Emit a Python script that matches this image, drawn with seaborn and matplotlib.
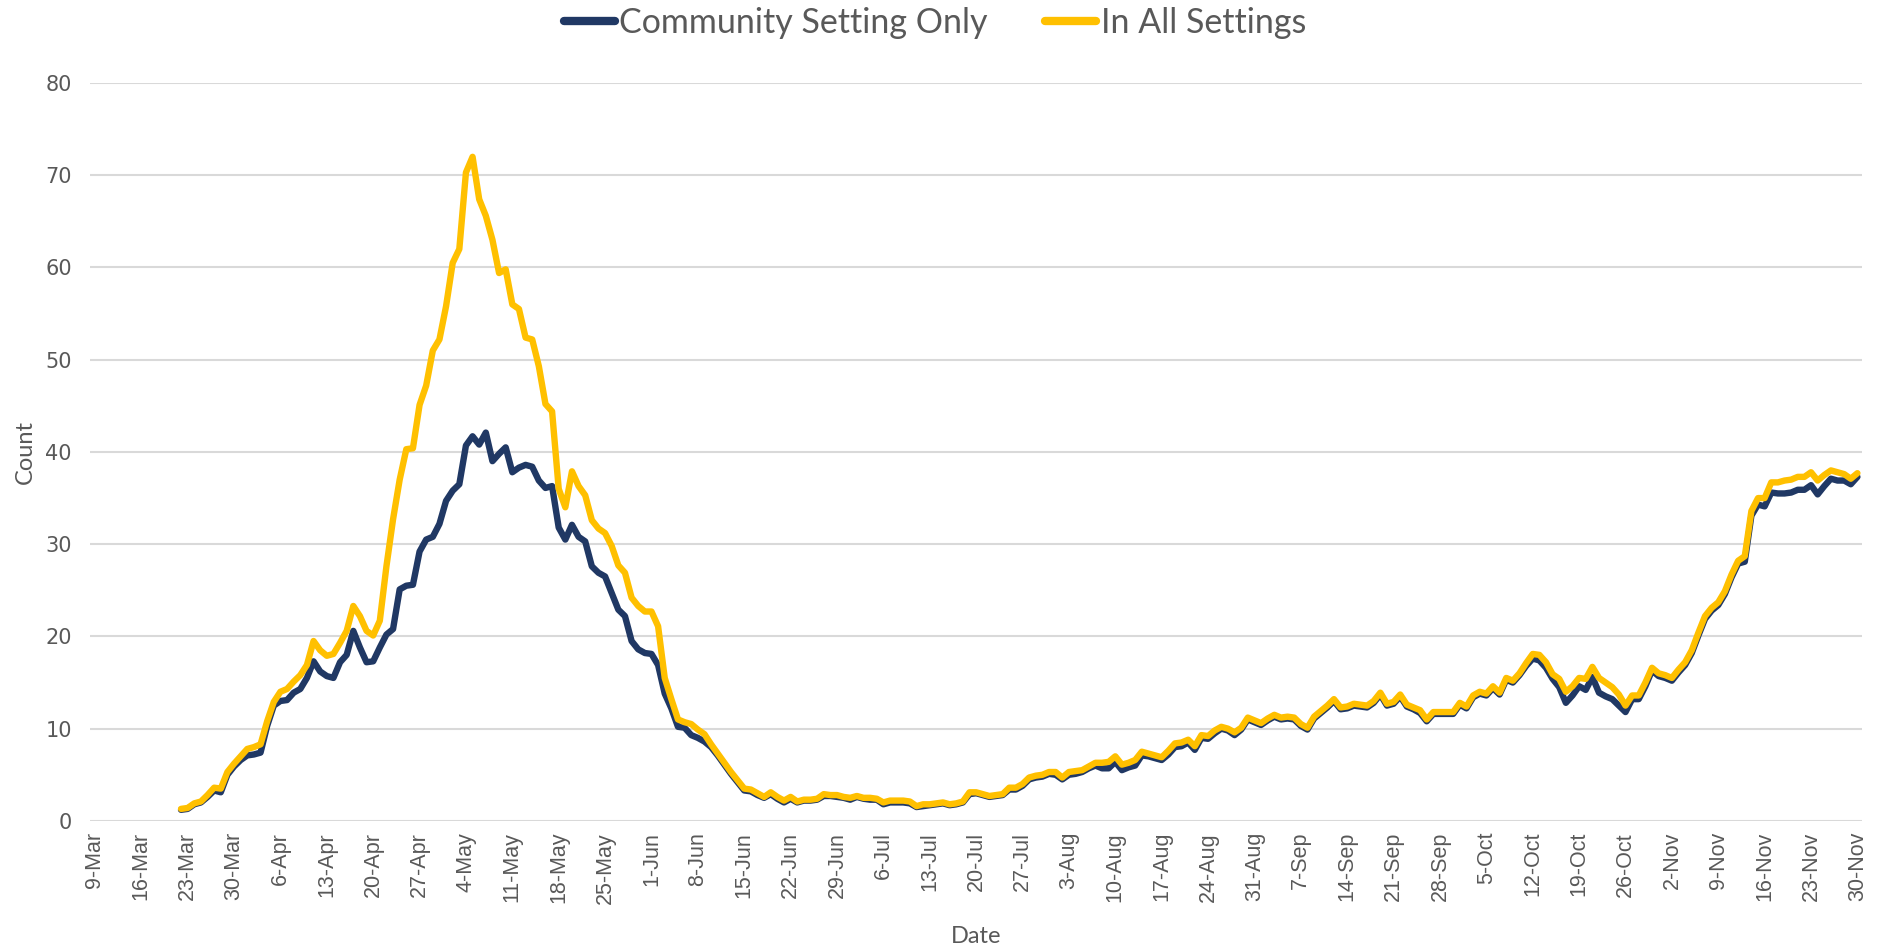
import matplotlib
matplotlib.use("Agg")
import matplotlib.pyplot as plt
import seaborn as sns
import pandas as pd
from matplotlib.lines import Line2D

# ---- data ----
first_day = "2020-03-22"
axis_start = "2020-03-09"
axis_end = "2020-11-30"

tick_labels = ["9-Mar", "16-Mar", "23-Mar", "30-Mar", "6-Apr", "13-Apr", "20-Apr", "27-Apr",
               "4-May", "11-May", "18-May", "25-May", "1-Jun", "8-Jun", "15-Jun", "22-Jun",
               "29-Jun", "6-Jul", "13-Jul", "20-Jul", "27-Jul", "3-Aug", "10-Aug", "17-Aug",
               "24-Aug", "31-Aug", "7-Sep", "14-Sep", "21-Sep", "28-Sep", "5-Oct", "12-Oct",
               "19-Oct", "26-Oct", "2-Nov", "9-Nov", "16-Nov", "23-Nov", "30-Nov"]

community = [
    1.2, 1.3, 1.8, 2.0, 2.6, 3.3, 3.1, 5.0, 5.9, 6.6, 7.1, 7.2, 7.4, 10.3, 12.5, 13.0,
    13.1, 13.9, 14.3, 15.5, 17.3, 16.2, 15.7, 15.5, 17.2, 18.0, 20.6, 18.8, 17.2, 17.3,
    18.8, 20.2, 20.8, 25.1, 25.5, 25.6, 29.2, 30.5, 30.8, 32.2, 34.7, 35.8, 36.5, 40.7,
    41.7, 40.8, 42.1, 39.0, 39.8, 40.5, 37.8, 38.3, 38.6, 38.4, 36.9, 36.1, 36.3, 31.8,
    30.5, 32.1, 30.8, 30.3, 27.6, 26.9, 26.5, 24.7, 22.9, 22.2, 19.5, 18.6, 18.2, 18.1,
    16.9, 13.8, 12.2, 10.2, 10.1, 9.3, 9.0, 8.6, 8.0, 7.1, 6.1, 5.1, 4.2, 3.3, 3.2, 2.8,
    2.5, 2.9, 2.4, 2.0, 2.4, 2.0, 2.2, 2.2, 2.3, 2.7, 2.7, 2.6, 2.5, 2.3, 2.6, 2.4, 2.3,
    2.3, 1.8, 2.0, 2.0, 2.0, 1.9, 1.5, 1.6, 1.7, 1.8, 1.9, 1.7, 1.8, 2.0, 2.9, 3.0, 2.8,
    2.6, 2.7, 2.8, 3.4, 3.4, 3.8, 4.5, 4.7, 4.8, 5.1, 5.0, 4.5, 5.0, 5.1, 5.3, 5.7, 6.0,
    5.7, 5.7, 6.4, 5.5, 5.8, 6.0, 7.1, 7.0, 6.8, 6.6, 7.2, 8.0, 8.1, 8.5, 7.7, 9.0, 8.9,
    9.5, 10.0, 9.8, 9.3, 9.9, 11.0, 10.7, 10.4, 10.9, 11.3, 11.0, 11.1, 11.0, 10.3, 9.9,
    11.1, 11.7, 12.3, 13.0, 12.1, 12.2, 12.5, 12.4, 12.3, 12.8, 13.7, 12.5, 12.7, 13.5,
    12.4, 12.1, 11.7, 10.8, 11.6, 11.6, 11.6, 11.6, 12.6, 12.2, 13.4, 13.8, 13.6, 14.4,
    13.7, 15.3, 15.0, 15.8, 16.8, 17.6, 17.4, 16.6, 15.4, 14.5, 12.8, 13.6, 14.6, 14.2,
    15.6, 13.9, 13.5, 13.2, 12.5, 11.8, 13.2, 13.2, 14.6, 16.3, 15.7, 15.5, 15.2, 16.1,
    16.9, 18.2, 20.1, 21.9, 22.8, 23.4, 24.6, 26.4, 27.9, 28.1, 33.1, 34.3, 34.1, 35.6,
    35.5, 35.5, 35.6, 35.9, 35.9, 36.4, 35.4, 36.3, 37.1, 36.9, 36.9, 36.5, 37.3,
]

all_settings = [
    1.3, 1.4, 1.9, 2.1, 2.8, 3.6, 3.5, 5.3, 6.2, 7.0, 7.8, 8.0, 8.3, 10.8, 12.9, 14.0,
    14.3, 15.1, 15.8, 16.9, 19.5, 18.5, 17.9, 18.1, 19.3, 20.6, 23.3, 22.2, 20.6, 20.1,
    21.7, 27.6, 32.7, 37.0, 40.3, 40.4, 45.1, 47.2, 51.0, 52.2, 55.8, 60.5, 62.0, 70.3,
    72.0, 67.4, 65.6, 63.0, 59.4, 59.8, 56.0, 55.5, 52.4, 52.2, 49.3, 45.2, 44.4, 36.0,
    34.0, 37.9, 36.3, 35.3, 32.6, 31.7, 31.2, 29.8, 27.7, 26.9, 24.2, 23.3, 22.7, 22.7,
    21.1, 15.5, 13.2, 11.0, 10.7, 10.5, 9.9, 9.4, 8.3, 7.3, 6.3, 5.3, 4.4, 3.5, 3.4, 3.0,
    2.6, 3.1, 2.6, 2.2, 2.6, 2.1, 2.3, 2.3, 2.4, 2.9, 2.8, 2.8, 2.6, 2.5, 2.7, 2.5, 2.5,
    2.4, 2.0, 2.2, 2.2, 2.2, 2.1, 1.6, 1.8, 1.8, 1.9, 2.0, 1.8, 1.9, 2.1, 3.1, 3.1, 2.9,
    2.7, 2.8, 2.9, 3.6, 3.6, 4.0, 4.7, 4.9, 5.0, 5.3, 5.3, 4.7, 5.3, 5.4, 5.5, 5.9, 6.3,
    6.3, 6.4, 7.0, 6.1, 6.3, 6.6, 7.5, 7.3, 7.1, 6.9, 7.6, 8.4, 8.5, 8.8, 8.1, 9.3, 9.2,
    9.8, 10.2, 10.0, 9.6, 10.1, 11.2, 10.9, 10.6, 11.1, 11.5, 11.2, 11.3, 11.2, 10.5, 10.1,
    11.3, 11.9, 12.5, 13.2, 12.3, 12.4, 12.7, 12.6, 12.5, 13.0, 13.9, 12.7, 12.9, 13.7,
    12.6, 12.3, 12.0, 11.0, 11.8, 11.8, 11.8, 11.8, 12.8, 12.4, 13.6, 14.0, 13.8, 14.6,
    13.9, 15.5, 15.2, 16.0, 17.1, 18.1, 18.0, 17.2, 15.9, 15.4, 14.0, 14.6, 15.5, 15.4,
    16.7, 15.5, 15.0, 14.5, 13.7, 12.5, 13.6, 13.6, 15.0, 16.6, 16.0, 15.8, 15.5, 16.4,
    17.2, 18.5, 20.4, 22.2, 23.1, 23.7, 24.9, 26.7, 28.2, 28.7, 33.6, 35.0, 35.0, 36.7,
    36.7, 36.9, 37.0, 37.3, 37.3, 37.8, 36.9, 37.5, 38.0, 37.8, 37.6, 37.1, 37.7,
]

series_names = ["Community Setting Only", "In All Settings"]
colors = ["#203864", "#FFC000"]

# ---- build table ----
dates = pd.date_range(first_day, periods=len(community), freq="D")
df = pd.concat([
    pd.DataFrame({"Date": dates, "Count": community, "Series": series_names[0]}),
    pd.DataFrame({"Date": dates, "Count": all_settings, "Series": series_names[1]}),
])

sns.set_theme(style="white")
plt.rcParams["font.family"] = ["Liberation Sans", "DejaVu Sans"]

fig = plt.figure(figsize=(18.85, 9.49), dpi=100)
ax = fig.add_axes([0.0477, 0.135, 0.9403, 0.7775])

sns.lineplot(data=df, x="Date", y="Count", hue="Series", palette=colors,
             hue_order=series_names, linewidth=4.6, ax=ax, legend=False)

start = pd.Timestamp(axis_start)
end = pd.Timestamp(axis_end)
ax.set_xlim(start - pd.Timedelta(hours=18), end + pd.Timedelta(hours=18))
ax.set_ylim(0, 80)
ax.set_yticks(range(0, 81, 10))
ax.yaxis.grid(True, color="#D9D9D9", linewidth=1.5)
ax.xaxis.grid(False)
for s in ax.spines.values():
    s.set_visible(False)

tick_pos = pd.date_range(axis_start, periods=len(tick_labels), freq="7D")
ax.set_xticks(tick_pos)
ax.set_xticklabels(tick_labels, rotation=90, fontsize=15.5, color="#595959",
                   family="Liberation Sans")
ax.tick_params(axis="both", length=0)
ax.tick_params(axis="x", pad=8)
ax.tick_params(axis="y", pad=13)
for lab in ax.get_yticklabels():
    lab.set_fontfamily("DejaVu Sans")
    lab.set_fontsize(15)
    lab.set_color("#595959")

ax.set_xlabel("Date", fontsize=17, color="#595959", family="Lato")
ax.set_ylabel("Count", fontsize=17, color="#595959", family="Lato")
ax.xaxis.set_label_coords(0.5, -0.143)
ax.yaxis.set_label_coords(-0.0305, 0.5)

handles = [Line2D([0], [0], color=c, lw=6, solid_capstyle="round") for c in colors]
fig.legend(handles, series_names, loc="center", bbox_to_anchor=(0.496, 0.976),
           ncol=2, frameon=False, prop={"family": "Lato", "size": 24.5},
           labelcolor="#595959", handlelength=1.5, handletextpad=0.12, columnspacing=1.7)

fig.savefig("out.png", dpi=100)
